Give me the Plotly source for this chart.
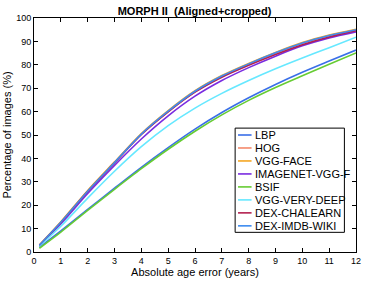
import plotly.graph_objects as go

x_err = [0.2, 1, 2, 3, 4, 5, 6, 7, 8, 9, 10, 11, 12]

lbp          = [2.0, 9.0, 18.2, 27.3, 36.2, 44.6, 52.5, 59.6, 65.9, 71.6, 76.8, 81.6, 86.3]
hog          = [2.9, 12.5, 25.8, 38.0, 50.2, 60.0, 68.5, 75.0, 80.2, 84.9, 89.1, 92.4, 94.9]
vgg_face     = [3.0, 12.9, 26.3, 38.5, 50.6, 60.4, 68.9, 75.4, 80.6, 85.3, 89.5, 92.7, 95.2]
imagenet_vgg = [2.8, 12.0, 25.0, 37.0, 48.3, 58.2, 66.6, 73.3, 78.8, 83.7, 88.1, 91.5, 94.1]
bsif         = [1.6, 8.5, 17.8, 26.8, 35.6, 43.9, 51.6, 58.6, 64.8, 70.3, 75.3, 80.2, 85.1]
vgg_very     = [2.5, 11.0, 23.0, 34.5, 45.0, 54.0, 61.5, 67.8, 73.3, 78.3, 82.9, 87.3, 91.8]
dex_chalearn = [2.9, 12.6, 25.9, 38.1, 50.2, 59.9, 68.3, 74.7, 79.8, 84.4, 88.6, 91.9, 94.6]
dex_imdb     = [2.9, 12.7, 26.0, 38.2, 50.4, 60.2, 68.7, 75.2, 80.4, 85.1, 89.3, 92.5, 95.0]

series = [
    ("LBP", lbp, "#3a6fe8"),
    ("HOG", hog, "#f4896b"),
    ("VGG-FACE", vgg_face, "#f5a623"),
    ("IMAGENET-VGG-F", imagenet_vgg, "#7a2be0"),
    ("BSIF", bsif, "#66cc33"),
    ("VGG-VERY-DEEP", vgg_very, "#66e8ff"),
    ("DEX-CHALEARN", dex_chalearn, "#b3204f"),
    ("DEX-IMDB-WIKI", dex_imdb, "#3d8bf0"),
]

x_ticks = list(range(0, 13))
y_ticks = list(range(0, 101, 10))

W, H = 367, 281
ML, MR, MT, MB = 28, 6, 18, 25
PW, PH = W - ML - MR, H - MT - MB

def px(xp):
    return (xp - ML) / PW

def py(yp):
    return (H - MB - yp) / PH

fig = go.Figure()
for name, vals, col in series:
    fig.add_trace(go.Scatter(x=x_err, y=vals, mode="lines", name=name,
                             line=dict(color=col, width=1.6, shape="spline", smoothing=0.8)))

font_family = "Liberation Sans, Arial, Helvetica, sans-serif"
axis_common = dict(showgrid=False, zeroline=False, showline=True, linecolor="black",
                   linewidth=1, mirror="ticks", ticks="inside", ticklen=4,
                   tickcolor="black", tickfont=dict(size=9, color="black", family=font_family))

# custom legend (box, line samples, labels)
shapes = [dict(type="rect", xref="paper", yref="paper",
               x0=px(236), x1=px(349), y0=py(236), y1=py(130),
               line=dict(color="black", width=1), fillcolor="white", layer="above")]
annotations = []
for i, (name, vals, col) in enumerate(series):
    yy = 137 + 13.2 * i
    shapes.append(dict(type="line", xref="paper", yref="paper",
                       x0=px(239), x1=px(253), y0=py(yy), y1=py(yy),
                       line=dict(color=col, width=1.6), layer="above"))
    annotations.append(dict(xref="paper", yref="paper", x=px(254), y=py(yy),
                            text=name, showarrow=False, xanchor="left", yanchor="middle",
                            font=dict(size=11, color="black", family=font_family)))

fig.update_layout(
    width=W, height=H,
    margin=dict(l=ML, r=MR, t=MT, b=MB),
    paper_bgcolor="white", plot_bgcolor="white",
    title=dict(text="<b>MORPH II  (Aligned+cropped)</b>", x=0.53, xanchor="center",
               y=0.975, yanchor="top", font=dict(size=11, color="black", family=font_family)),
    xaxis=dict(range=[0, 12], tickvals=x_ticks,
               title=dict(text="Absolute age error (years)", standoff=2,
                          font=dict(size=11, color="black", family=font_family)),
               **axis_common),
    yaxis=dict(range=[0, 100], tickvals=y_ticks,
               title=dict(text="Percentage of images (%)", standoff=2,
                          font=dict(size=11, color="black", family=font_family)),
               **axis_common),
    shapes=shapes,
    annotations=annotations,
    showlegend=False,
)

fig.write_html("out.html", config={"displayModeBar": False},
               post_script="document.body.style.margin='0';document.body.style.overflow='hidden';")
